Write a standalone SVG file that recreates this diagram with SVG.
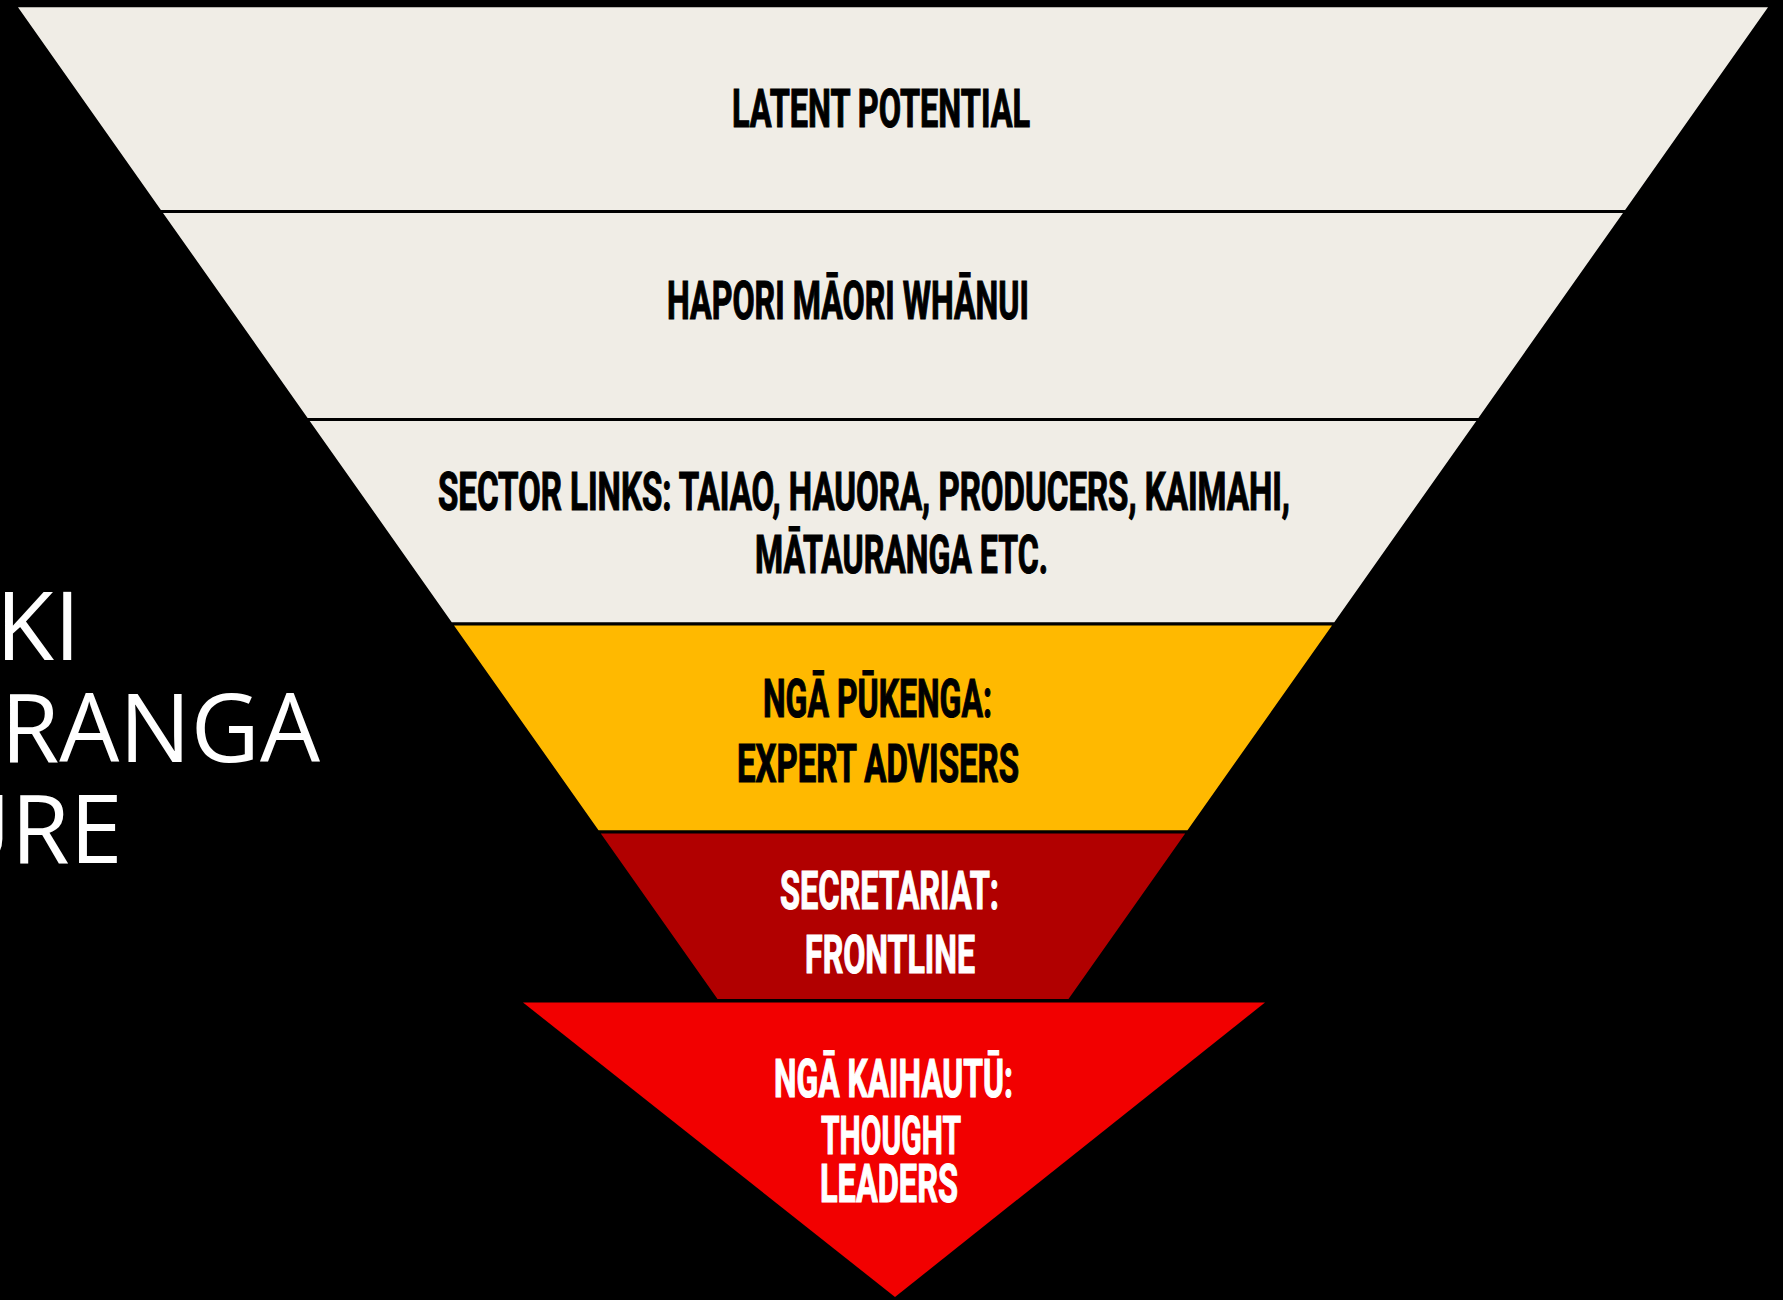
<svg xmlns="http://www.w3.org/2000/svg" width="1783" height="1300" viewBox="0 0 1783 1300">
<style>
.band{stroke:#000;stroke-width:3;stroke-linejoin:miter}
.lbl{font-family:Roboto,"Liberation Sans",Arial,sans-serif;font-weight:700;font-size:53px;stroke-width:1.2px;paint-order:stroke}
.dk{fill:#000;stroke:#000}
.wt{fill:#fff;stroke:#fff}
.side{font-family:"Open Sans","Noto Sans","Liberation Sans",sans-serif;font-size:95px;fill:#fff;text-anchor:end}
</style>
<rect x="0" y="0" width="1783" height="1300" fill="#000"/>
<g id="title-fragment">
<text class="side" x="80.5" y="660">KI</text>
<text class="side" x="320" y="762">RANGA</text>
<text class="side" x="122.5" y="863">URE</text>
</g>
<g id="latent-potential">
<polygon class="band" fill="#F0EDE6" points="15,5.7 1771,5.7 1625.8,211.5 160.2,211.5"/>
<text class="lbl dk" x="732" y="127" textLength="298" lengthAdjust="spacingAndGlyphs">LATENT POTENTIAL</text>
</g>
<g id="hapori-maori-whanui">
<polygon class="band" fill="#F0EDE6" points="160.2,211.5 1625.8,211.5 1479.1,419.5 306.9,419.5"/>
<text class="lbl dk" x="667" y="319" textLength="362" lengthAdjust="spacingAndGlyphs">HAPORI MĀORI WHĀNUI</text>
</g>
<g id="sector-links">
<polygon class="band" fill="#F0EDE6" points="306.9,419.5 1479.1,419.5 1334.8,624 451.2,624"/>
<text class="lbl dk" x="438" y="510" textLength="852" lengthAdjust="spacingAndGlyphs">SECTOR LINKS: TAIAO, HAUORA, PRODUCERS, KAIMAHI,</text>
<text class="lbl dk" x="755" y="573" textLength="293" lengthAdjust="spacingAndGlyphs">MĀTAURANGA ETC.</text>
</g>
<g id="nga-pukenga">
<polygon class="band" fill="#FFB900" points="451.2,624 1334.8,624 1188,832 598,832"/>
<text class="lbl dk" x="763" y="717" textLength="229" lengthAdjust="spacingAndGlyphs">NGĀ PŪKENGA:</text>
<text class="lbl dk" x="737" y="782" textLength="282" lengthAdjust="spacingAndGlyphs">EXPERT ADVISERS</text>
</g>
<g id="secretariat">
<polygon class="band" fill="#B10000" points="598,832 1188,832 1069.2,1000.5 716.8,1000.5"/>
<text class="lbl wt" x="780" y="909" textLength="219" lengthAdjust="spacingAndGlyphs">SECRETARIAT:</text>
<text class="lbl wt" x="805" y="973" textLength="170" lengthAdjust="spacingAndGlyphs">FRONTLINE</text>
</g>
<g id="nga-kaihautu">
<polygon fill="#F20000" points="523,1002.5 1265,1002.5 895,1297"/>
<text class="lbl wt" x="774" y="1097" textLength="239" lengthAdjust="spacingAndGlyphs">NGĀ KAIHAUTŪ:</text>
<text class="lbl wt" x="821" y="1154" textLength="140" lengthAdjust="spacingAndGlyphs">THOUGHT</text>
<text class="lbl wt" x="820" y="1202" textLength="138" lengthAdjust="spacingAndGlyphs">LEADERS</text>
</g>
<g id="connectors"/>
</svg>
